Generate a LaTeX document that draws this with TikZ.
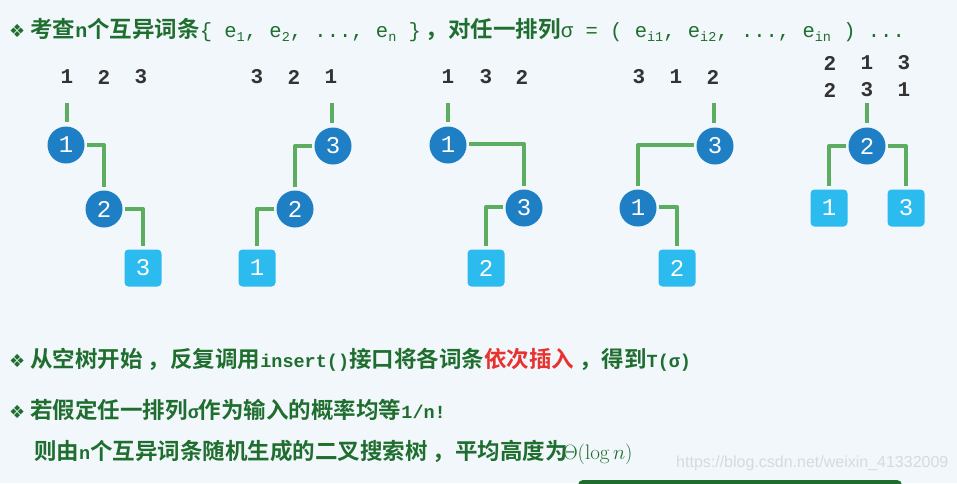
\documentclass[tikz,border=0pt]{standalone}
\usepackage{fontspec}
\newfontfamily\cjk{Noto Sans CJK SC}[BoldFont={Noto Sans CJK SC Bold}]
\newfontfamily\mono{Liberation Mono}
\newfontfamily\dejavu{DejaVu Sans}
\newfontfamily\wmfont{Liberation Sans}
\definecolor{bgc}{HTML}{F1F7FB}
\definecolor{nodeblue}{HTML}{1E7FC5}
\definecolor{leafblue}{HTML}{2BBBEE}
\definecolor{edgegreen}{HTML}{5CAD5F}
\definecolor{tgreen}{HTML}{1F6E2F}
\definecolor{labgray}{HTML}{333333}
\definecolor{hired}{HTML}{E8322F}
\definecolor{wmgray}{HTML}{D5DADF}
\newcommand{\cj}[1]{{\cjk\bfseries\fontsize{22.5}{22.5}\selectfont #1}}
\newcommand{\mn}[1]{{\mono\fontsize{20.5}{20.5}\selectfont #1}}
\newcommand{\mb}[1]{{\mono\bfseries\fontsize{20}{20}\selectfont #1}}
\newcommand{\mbs}[1]{{\mono\bfseries\fontsize{18.5}{18.5}\selectfont #1}}
\newcommand{\sbx}[1]{\raisebox{-4pt}{\fontsize{13.5}{13.5}\selectfont #1}}
\newcommand{\dia}{{\dejavu\fontsize{18}{18}\selectfont ❖}\hspace{5pt}}
\newcommand{\cm}{\hspace{5pt}\cj{，}}
\tikzset{
  circ/.style={circle, fill=nodeblue, minimum size=37pt, inner sep=0pt, text=white, font=\mono\fontsize{24}{24}\selectfont},
  sq/.style={rectangle, rounded corners=4pt, fill=leafblue, minimum size=37pt, inner sep=0pt, text=white, font=\mono\fontsize{24}{24}\selectfont},
  edge/.style={draw=edgegreen, line width=4pt, line join=round, shorten <=2.5pt, shorten >=3pt},
  lab/.style={text=labgray, font=\mono\bfseries\fontsize{21}{21}\selectfont, inner sep=0pt},
  txt/.style={anchor=west, inner sep=0pt, text=tgreen}
}
\begin{document}
\begin{tikzpicture}[x=1pt,y=-1pt]
\useasboundingbox (0,0) rectangle (957,483);
\clip (0,0) rectangle (957,483);
\fill[bgc] (0,0) rectangle (957,483);

% title
\node[txt] (title) at (9,30) {\dia\cj{考查}\mb{n}\cj{个互异词条}\mn{\{ e\sbx{1}, e\sbx{2}, ..., e\sbx{n} \}}\cm\cj{对任一排列}\mn{σ = ( e\sbx{i1}, e\sbx{i2}, ..., e\sbx{in} ) ...}};

% tree 1 : 1 2 3
\node[lab] (l11) at (67,77) {1};
\node[lab] (l12) at (104,77) {2};
\node[lab] (l13) at (141,77) {3};
\coordinate (t1) at (67,103);
\node[circ] (a1) at (66,145) {1};
\node[circ] (a2) at (104,209) {2};
\node[sq] (a3) at (143,268) {3};
\draw[edge, shorten <=0pt, shorten >=4pt] (t1) -- (t1 |- a1.north);
\draw[edge] (a1.east) -| (a2.north);
\draw[edge] (a2.east) -| (a3.north);

% tree 2 : 3 2 1
\node[lab] (l21) at (257,77) {3};
\node[lab] (l22) at (294,77) {2};
\node[lab] (l23) at (331,77) {1};
\coordinate (t2) at (332,103);
\node[circ] (b3) at (333,146) {3};
\node[circ] (b2) at (295,209) {2};
\node[sq] (b1) at (257,268) {1};
\draw[edge, shorten <=0pt, shorten >=4pt] (t2) -- (t2 |- b3.north);
\draw[edge] (b3.west) -| (b2.north);
\draw[edge] (b2.west) -| (b1.north);

% tree 3 : 1 3 2
\node[lab] (l31) at (448,77) {1};
\node[lab] (l32) at (486,77) {3};
\node[lab] (l33) at (522,77) {2};
\coordinate (t3) at (448,103);
\node[circ] (c1) at (448,145) {1};
\node[circ] (c3) at (524,208) {3};
\node[sq] (c2) at (486,268) {2};
\draw[edge, shorten <=0pt, shorten >=4pt] (t3) -- (t3 |- c1.north);
\draw[edge] ([yshift=1pt]c1.east) -| (c3.north);
\draw[edge] ([yshift=1pt]c3.west) -| (c2.north);

% tree 4 : 3 1 2
\node[lab] (l41) at (639,77) {3};
\node[lab] (l42) at (676,77) {1};
\node[lab] (l43) at (713,77) {2};
\coordinate (t4) at (714,103);
\node[circ] (d3) at (715,146) {3};
\node[circ] (d1) at (638,208) {1};
\node[sq] (d2) at (677,268) {2};
\draw[edge, shorten <=0pt, shorten >=4pt] (t4) -- (t4 |- d3.north);
\draw[edge] ([yshift=1pt]d3.west) -| (d1.north);
\draw[edge] ([yshift=1pt]d1.east) -| (d2.north);

% tree 5 : 2 1 3 / 2 3 1
\node[lab] (l51) at (830,63) {2};
\node[lab] (l52) at (867,63) {1};
\node[lab] (l53) at (904,63) {3};
\node[lab] (l54) at (830,90) {2};
\node[lab] (l55) at (867,90) {3};
\node[lab] (l56) at (904,90) {1};
\coordinate (t5) at (867,103);
\node[circ] (e2) at (867,146) {2};
\node[sq] (e1) at (829,208) {1};
\node[sq] (e3) at (906,208) {3};
\draw[edge, shorten <=0pt, shorten >=4pt] (t5) -- (t5 |- e2.north);
\draw[edge] (e2.west) -| (e1.north);
\draw[edge] (e2.east) -| (e3.north);

% bottom text
\node[txt] (line1) at (9,360) {\dia\cj{从空树开始}\cm\cj{反复调用}\mbs{insert()}\cj{接口将各词条}{\color{hired}\cj{依次插入}}\cm\cj{得到}\mbs{T(σ)}};
\node[txt] (line2) at (9,410) {\dia\cj{若假定任一排列}\mbs{σ}\cj{作为输入的概率均等}\mbs{1/n!}};
\node[txt] (line3) at (34,452) {\cj{则由}\mbs{n}\cj{个互异词条随机生成的二叉搜索树}\cm\cj{平均高度为}\hspace{-5pt}{\fontsize{21}{21}\selectfont$\Theta(\log n)$}};

% watermark
\node[anchor=west, inner sep=0pt, text=wmgray, font=\wmfont\fontsize{16}{16}\selectfont] (wm) at (676,463) {https://blog.csdn.net/weixin\_41332009};

% bottom bar
\fill[tgreen, rounded corners=5pt] (578,480) rectangle (902,500);
\end{tikzpicture}
\end{document}
